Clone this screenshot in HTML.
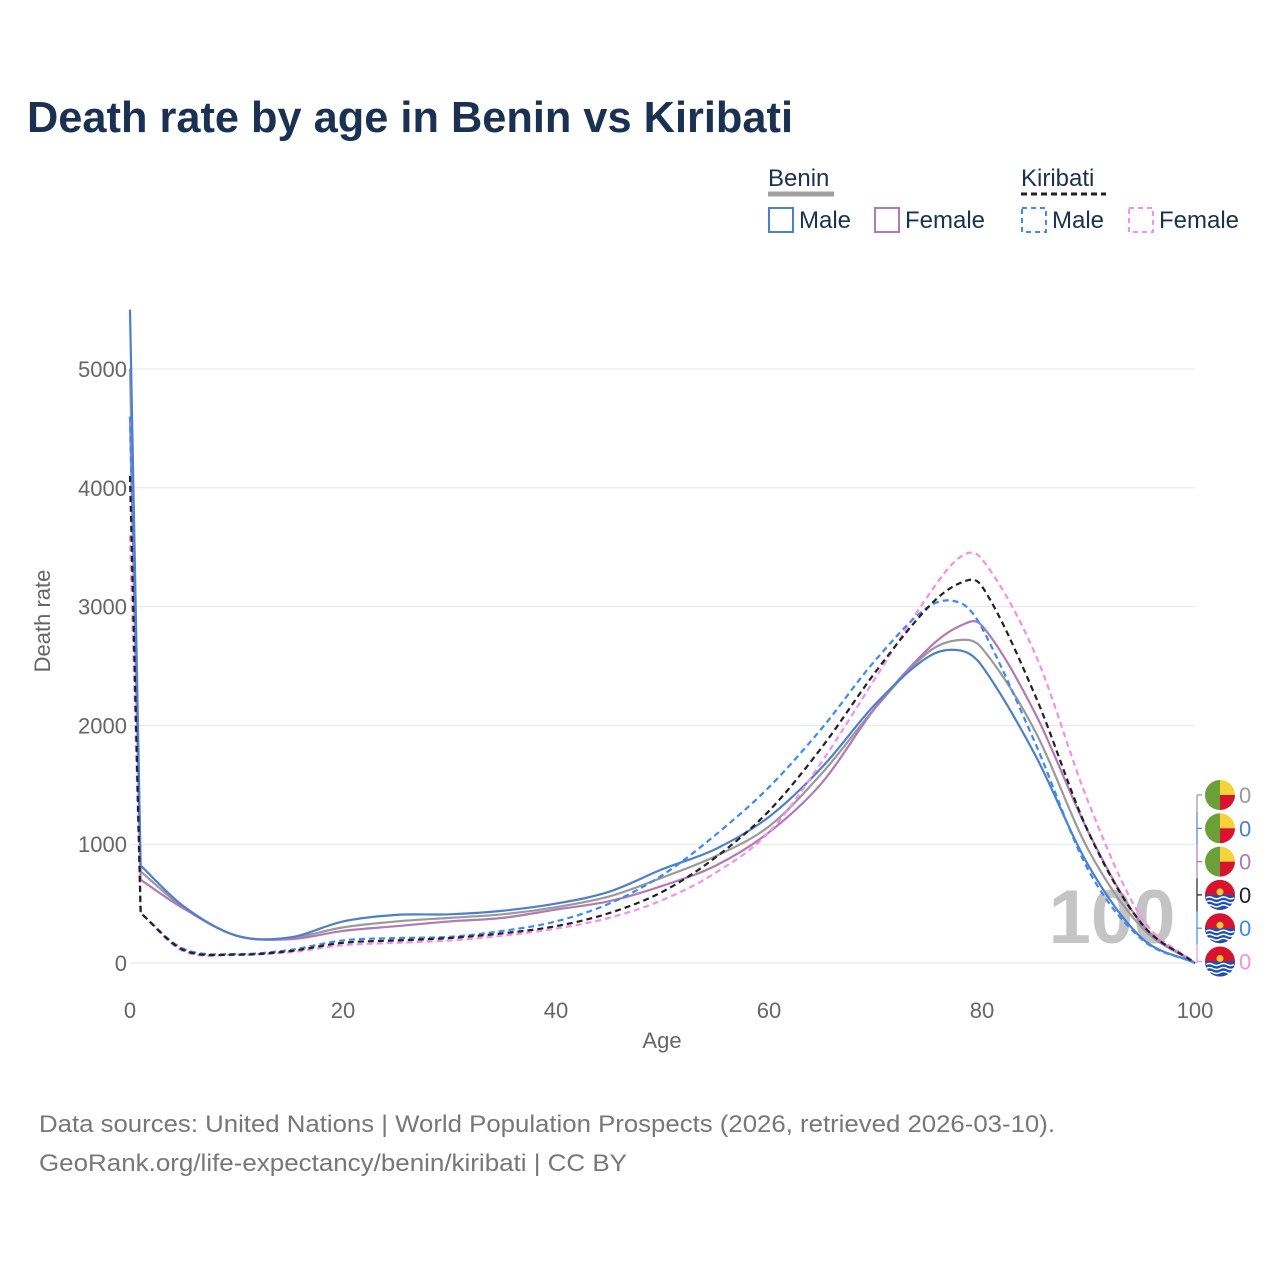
<!DOCTYPE html>
<html><head><meta charset="utf-8">
<style>
body{margin:0;background:#fff;font-family:"Liberation Sans",sans-serif;}
#wrap{position:relative;width:1280px;height:1280px;overflow:hidden;}
</style></head>
<body>
<div id="wrap">
<svg id="svg" width="1280" height="1280" xmlns="http://www.w3.org/2000/svg">
<text x="27" y="132" font-size="44" font-weight="bold" fill="#1a3151" textLength="766" lengthAdjust="spacingAndGlyphs">Death rate by age in Benin vs Kiribati</text>
<g font-size="24" fill="#1a3151">
<text x="768" y="186">Benin</text>
<line x1="768" y1="194" x2="834" y2="194" stroke="#a0a0a0" stroke-width="5"/>
<rect x="769" y="208" width="24" height="24" fill="none" stroke="#4d7fcf" stroke-width="2"/>
<text x="799" y="228">Male</text>
<rect x="875" y="208" width="24" height="24" fill="none" stroke="#b07ab5" stroke-width="2"/>
<text x="905" y="228">Female</text>
<text x="1021" y="186">Kiribati</text>
<line x1="1021" y1="194" x2="1106" y2="194" stroke="#222" stroke-width="3" stroke-dasharray="6,4"/>
<rect x="1022" y="208" width="24" height="24" fill="none" stroke="#3b8bf0" stroke-width="2" stroke-dasharray="5,4"/>
<text x="1052" y="228">Male</text>
<rect x="1129" y="208" width="24" height="24" fill="none" stroke="#f78ee8" stroke-width="2" stroke-dasharray="5,4"/>
<text x="1159" y="228">Female</text>
</g>
<text x="1112" y="943" font-size="76" font-weight="bold" fill="#c4c4c4" text-anchor="middle">100</text>
<g id="grid"></g><g id="lines"></g><g id="ends"></g>
<text x="662" y="1048" font-size="22" fill="#666" text-anchor="middle">Age</text>
<text transform="translate(50,621) rotate(-90)" font-size="22" fill="#666" text-anchor="middle">Death rate</text>
<text x="39" y="1132" font-size="24" fill="#777" textLength="1016" lengthAdjust="spacingAndGlyphs">Data sources: United Nations | World Population Prospects (2026, retrieved 2026-03-10).</text>
<text x="39" y="1171" font-size="24" fill="#777" textLength="588" lengthAdjust="spacingAndGlyphs">GeoRank.org/life-expectancy/benin/kiribati | CC BY</text>
</svg>
</div>
<script>
const ages=[0,1,5,10,15,20,25,30,35,40,45,50,55,60,65,70,75,78,80,85,90,95,100];
const beninMale=[5500,820,480,230,215,350,405,410,440,500,600,790,960,1230,1650,2180,2580,2630,2500,1750,820,210,0];
const beninBoth=[5000,770,470,230,210,300,350,380,410,470,560,720,900,1150,1600,2150,2620,2720,2650,1950,950,300,0];
const beninFemale=[4600,700,460,230,200,270,310,350,380,450,520,650,820,1100,1520,2150,2650,2840,2840,2100,1100,330,0];
const kiribatiMale=[4600,420,120,75,110,190,210,220,270,350,500,740,1080,1480,1980,2550,3000,3030,2820,1850,780,200,0];
const kiribatiBoth=[4100,420,110,70,100,170,190,210,250,310,420,600,890,1280,1820,2450,3000,3200,3170,2250,1100,330,0];
const kiribatiFemale=[3600,420,100,70,90,150,170,190,230,290,380,530,760,1100,1700,2400,3100,3420,3400,2600,1350,380,0];
const yTicks=[0,1000,2000,3000,4000,5000];
const xTicks=[0,20,40,60,80,100];
const series=[
 {name:'benin-both',vals:beninBoth,color:'#9a9a9a',dash:''},
 {name:'benin-female',vals:beninFemale,color:'#b07ab5',dash:''},
 {name:'benin-male',vals:beninMale,color:'#4d7fcf',dash:''},
 {name:'kiribati-female',vals:kiribatiFemale,color:'#f78ee8',dash:'6,4'},
 {name:'kiribati-male',vals:kiribatiMale,color:'#3b8bf0',dash:'6,4'},
 {name:'kiribati-both',vals:kiribatiBoth,color:'#222222',dash:'6,4'}];
const NS='http://www.w3.org/2000/svg';
const X=a=>130+a*10.65, Y=v=>963-v*0.1188;
function mk(t,attrs,parent){const e=document.createElementNS(NS,t);for(const k in attrs)e.setAttribute(k,attrs[k]);parent.appendChild(e);return e;}
const grid=document.getElementById('grid');
yTicks.forEach(v=>{
 const l=mk('line',{x1:130,x2:1195,y1:Y(v),y2:Y(v),stroke:'#e6e6e6','stroke-width':1},grid);
 
 
 const t=mk('text',{x:127,y:Y(v)+8,'font-size':22,fill:'#666','text-anchor':'end'},grid);t.textContent=v;
 
 
});
xTicks.forEach(v=>{
 const t=mk('text',{x:X(v),y:1018,'font-size':22,fill:'#666','text-anchor':'middle'},grid);t.textContent=v;
 
 
});
const lines=document.getElementById('lines');
series.forEach(s=>{
 const n=ages.length;
 const m=ages.map((a,i)=>{
  if(i<=1)return (s.vals[2]-s.vals[1])/(ages[2]-ages[1]);
  if(i==n-1)return (s.vals[i]-s.vals[i-1])/(ages[i]-ages[i-1]);
  return (s.vals[i+1]-s.vals[i-1])/(ages[i+1]-ages[i-1]);
 });
 let d=`M${X(ages[0])},${Y(s.vals[0])}L${X(ages[1])},${Y(s.vals[1])}`;
 for(let i=1;i<n-1;i++){
  const h=ages[i+1]-ages[i];
  const c1a=ages[i]+h/3,c1v=s.vals[i]+m[i]*h/3;
  const c2a=ages[i+1]-h/3,c2v=s.vals[i+1]-m[i+1]*h/3;
  d+=`C${X(c1a)},${Y(c1v)} ${X(c2a)},${Y(c2v)} ${X(ages[i+1])},${Y(s.vals[i+1])}`;
 }
 const e=mk('path',{d:d,fill:'none',stroke:s.color,'stroke-width':2.2,'stroke-dasharray':s.dash},lines);
 
 
});
const ends=document.getElementById('ends');
const endItems=[['benin-both','#9a9a9a','benin'],['benin-male','#4d7fcf','benin'],['benin-female','#b07ab5','benin'],['kiribati-both','#222','kiribati'],['kiribati-male','#3b8bf0','kiribati'],['kiribati-female','#f78ee8','kiribati']];
endItems.forEach((it,i)=>{
 const y=795+i*33.3;
 mk('path',{d:`M1197,${i==0?y:y-16.6}V${i==5?963:y+16.6}M1197,${y}h5`,stroke:it[1],fill:'none','stroke-width':1.2},ends);
 const g=mk('g',{},ends);
 
 
 const cx=1220;
 if(it[2]=='benin'){
  mk('path',{d:`M${cx},${y-15}A15,15 0 0,0 ${cx},${y+15}Z`,fill:'#6a9f3a'},g);
  mk('path',{d:`M${cx},${y-15}A15,15 0 0,1 ${cx+15},${y}H${cx}Z`,fill:'#f7d33a'},g);
  mk('path',{d:`M${cx},${y+15}A15,15 0 0,0 ${cx+15},${y}H${cx}Z`,fill:'#d9122e'},g);
 }else{
  mk('circle',{cx:cx,cy:y,r:15,fill:'#d9122e'},g);
  mk('path',{d:`M${cx-15},${y}A15,15 0 0,0 ${cx+15},${y}Z`,fill:'#1d4fb0'},g);
  for(let k=0;k<3;k++)mk('path',{d:`M${cx-14},${y+3+k*4}q3.5,-2 7,0t7,0t7,0t7,0`,stroke:'#fff','stroke-width':1.5,fill:'none'},g);
  mk('circle',{cx:cx,cy:y-3,r:3.5,fill:'#f7c531'},g);
 }
 const t=mk('text',{x:1239,y:y+8,'font-size':22,fill:it[1]},ends);t.textContent='0';
 
 
});
</script>
</body></html>
